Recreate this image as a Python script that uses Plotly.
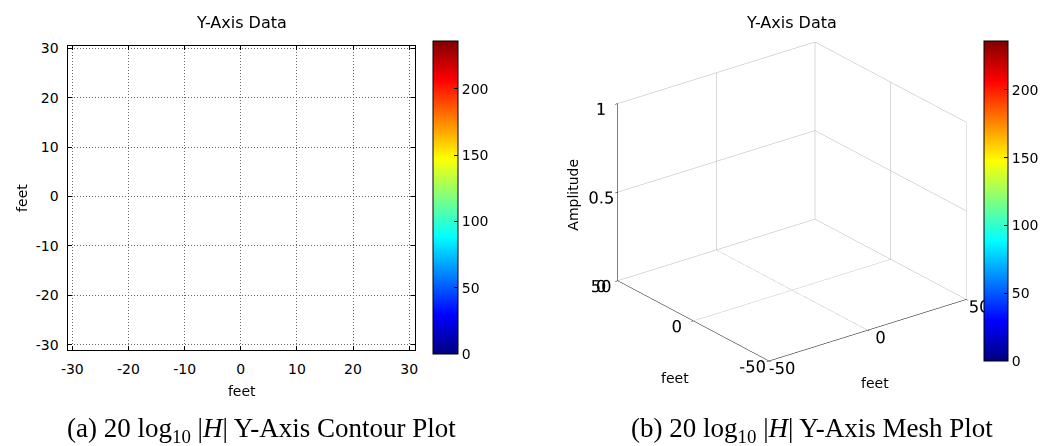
import plotly.graph_objects as go

# ---- data (the reference plots are empty: no finite values) ----
mesh_x = [-50, 0, 50]
mesh_y = [-50, 0, 50]
mesh_z = [[None, None, None], [None, None, None], [None, None, 0]]

color_min = 0
color_max = 236
colorbar_ticks = [0, 50, 100, 150, 200]
contour_ticks = [-30, -20, -10, 0, 10, 20, 30]
contour_ticklabels = ["-30", "-20", "-10", "0", "10", "20", "30"]
mesh_xy_ticks = [-50, 0, 50]
mesh_xy_ticklabels = ["-50", "0", "50"]
mesh_z_ticks = [0, 0.5, 1]
mesh_z_ticklabels = ["0", "0.5", "1"]

title_text = "Y-Axis Data"
caption_a = "(a) 20 log<sub>10</sub> |<i>H</i>| Y-Axis Contour Plot"
caption_b = "(b) 20 log<sub>10</sub> |<i>H</i>| Y-Axis Mesh Plot"

# MATLAB jet colormap
jet = [
    [0.0, "rgb(0,0,128)"],
    [0.125, "rgb(0,0,255)"],
    [0.375, "rgb(0,255,255)"],
    [0.625, "rgb(255,255,0)"],
    [0.875, "rgb(255,0,0)"],
    [1.0, "rgb(128,0,0)"],
]

W, H = 1046, 446
FONT = "DejaVu Sans"
tickfont = dict(family=FONT, size=14, color="black")


def px_x(p):
    return p / W


def px_y(p):
    return 1 - p / H


def colorbar_trace(left, top, bottom, thickness):
    return go.Scatter(
        x=[None], y=[None], mode="markers", xaxis="x", yaxis="y",
        hoverinfo="skip", showlegend=False,
        marker=dict(
            color=[color_min], cmin=color_min, cmax=color_max,
            colorscale=jet, showscale=True,
            colorbar=dict(
                x=px_x(left), xanchor="left", xpad=0, ypad=0,
                y=px_y((top + bottom) / 2), yanchor="middle",
                lenmode="pixels", len=bottom - top, thickness=thickness,
                outlinecolor="black", outlinewidth=1,
                tickvals=colorbar_ticks, ticks="inside", ticklen=4,
                tickcolor="black", tickfont=tickfont,
            ),
        ),
    )


fig = go.Figure()

fig.add_trace(go.Surface(
    x=mesh_x, y=mesh_y, z=mesh_z, scene="scene", opacity=0,
    cmin=color_min, cmax=color_max, colorscale=jet, showscale=False,
    hoverinfo="skip", showlegend=False,
))
fig.add_trace(colorbar_trace(430, 39, 352, 25))
fig.add_trace(colorbar_trace(986, 39, 359, 24))

axis_common = dict(
    showgrid=True, gridcolor="#666", griddash="1px,2px", gridwidth=1,
    zeroline=False, showline=True, linecolor="black", linewidth=1,
    mirror="allticks", ticks="inside", ticklen=4, tickcolor="black",
    tickfont=tickfont, ticklabelstandoff=6,
)

scene_axis = dict(
    showbackground=False, gridcolor="#b4b4b4", gridwidth=1,
    zeroline=False, showline=True, linecolor="black", linewidth=1,
    showspikes=False, ticks="outside", ticklen=3, tickcolor="black",
    tickfont=tickfont, tickangle=0, title=dict(text=""),
)

EYE = 1.46
ZOOM = 1.37

label_font = dict(family=FONT, size=14, color="black")

fig.update_layout(
    width=W, height=H,
    margin=dict(l=0, r=0, t=0, b=0),
    paper_bgcolor="white", plot_bgcolor="white",
    showlegend=False,
    font=dict(family=FONT, color="black"),
    xaxis=dict(domain=[px_x(62), px_x(412)], range=[-30.7, 31.05],
               tickvals=contour_ticks, ticktext=contour_ticklabels,
               title=dict(text="feet", font=label_font, standoff=10),
               **axis_common),
    yaxis=dict(domain=[px_y(351), px_y(41)], range=[-31.05, 30.45],
               tickvals=contour_ticks, ticktext=contour_ticklabels,
               title=dict(text="feet", font=label_font, standoff=4),
               **axis_common),
    scene=dict(
        domain=dict(x=[px_x(578), px_x(1008)], y=[px_y(384.5), px_y(14.5)]),
        xaxis=dict(range=[-50, 50], tickvals=mesh_xy_ticks, ticktext=mesh_xy_ticklabels,
                   **scene_axis),
        yaxis=dict(range=[-50, 50], tickvals=mesh_xy_ticks, ticktext=mesh_xy_ticklabels,
                   **scene_axis),
        zaxis=dict(range=[0, 1], tickvals=mesh_z_ticks, ticktext=mesh_z_ticklabels,
                   **scene_axis),
        aspectmode="manual",
        aspectratio=dict(x=1.0 * ZOOM, y=1.0 * ZOOM, z=0.78 * ZOOM),
        camera=dict(
            eye=dict(x=-0.556 * EYE, y=-0.725 * EYE, z=0.407 * EYE),
            center=dict(x=0, y=0, z=0),
            up=dict(x=0, y=0, z=1),
            projection=dict(type="orthographic"),
        ),
    ),
    annotations=[
        dict(text=title_text, x=px_x(237), y=px_y(17), xref="paper", yref="paper",
             xanchor="center", yanchor="middle",
             showarrow=False, font=dict(family=FONT, size=16)),
        dict(text=title_text, x=px_x(792), y=px_y(17), xref="paper", yref="paper",
             xanchor="center", yanchor="middle",
             showarrow=False, font=dict(family=FONT, size=16)),
        dict(text="Amplitude", x=px_x(572), y=px_y(193), xref="paper", yref="paper",
             xanchor="center", yanchor="middle",
             showarrow=False, textangle=-90, font=label_font),
        dict(text="feet", x=px_x(876), y=px_y(385), xref="paper", yref="paper",
             xanchor="center", yanchor="middle", showarrow=False, font=label_font),
        dict(text="feet", x=px_x(674), y=px_y(380), xref="paper", yref="paper",
             xanchor="center", yanchor="middle", showarrow=False, font=label_font),
        dict(text=caption_a, x=px_x(257), y=px_y(433), xref="paper", yref="paper",
             xanchor="center", yanchor="middle",
             showarrow=False, font=dict(family="Liberation Serif", size=27)),
        dict(text=caption_b, x=px_x(813), y=px_y(433), xref="paper", yref="paper",
             xanchor="center", yanchor="middle",
             showarrow=False, font=dict(family="Liberation Serif", size=27)),
    ],
)

fig.write_html("out.html")
